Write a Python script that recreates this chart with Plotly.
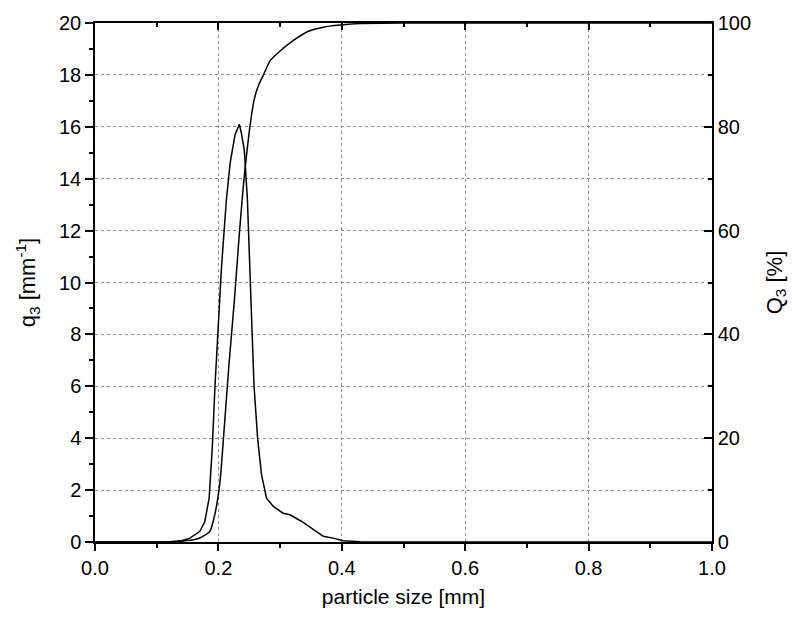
import plotly.graph_objects as go

# density distribution q3 [mm^-1]
q3_x = [0.0, 0.10, 0.12, 0.14, 0.154, 0.170, 0.178, 0.185, 0.190, 0.1945, 0.199, 0.205,
        0.213, 0.219, 0.227, 0.234, 0.2377, 0.242, 0.247, 0.251, 0.2545, 0.2577, 0.2636,
        0.270, 0.278, 0.289, 0.305, 0.316, 0.335, 0.354, 0.370, 0.386, 0.402, 0.43, 0.46,
        0.5, 1.0]
q3_y = [0, 0, 0.01, 0.05, 0.15, 0.41, 0.79, 1.69, 3.6, 6.03, 8.07, 10.6,
        13.2, 14.6, 15.7, 16.1, 15.7, 15.1, 13.2, 10.6, 8.07, 6.03, 3.98,
        2.58, 1.69, 1.37, 1.11, 1.05, 0.79, 0.47, 0.22, 0.15, 0.05, 0.01, 0,
        0, 0]

# cumulative distribution Q3 [%]
Q3_x = [0.0, 0.10, 0.13, 0.143, 0.160, 0.170, 0.186, 0.194, 0.2026, 0.209, 0.217, 0.226,
        0.234, 0.2415, 0.2496, 0.2577, 0.265, 0.273, 0.2836, 0.300, 0.321, 0.348, 0.370,
        0.397, 0.43, 0.5, 1.0]
Q3_y = [0, 0, 0.05, 0.2, 0.45, 0.77, 2.0, 5.2, 11.6, 21.2, 34, 46.7,
        59.5, 70, 78.7, 85.1, 88, 90, 92.7, 94.6, 96.6, 98.5, 99.2,
        99.6, 99.9, 100, 100]

FONT = "Liberation Sans, Arial, sans-serif"

fig = go.Figure()
fig.add_trace(go.Scatter(x=q3_x, y=q3_y, mode="lines", line=dict(color="black", width=1.5),
                         xaxis="x", yaxis="y", showlegend=False))
fig.add_trace(go.Scatter(x=Q3_x, y=Q3_y, mode="lines",
                         line=dict(color="black", width=1.5, shape="spline", smoothing=0.5),
                         xaxis="x", yaxis="y2", showlegend=False))
fig.add_trace(go.Scatter(x=[], y=[], xaxis="x2", yaxis="y", showlegend=False))

fig.update_layout(
    width=795, height=617,
    margin=dict(l=95, r=83, t=22, b=66),
    paper_bgcolor="white", plot_bgcolor="white",
    font=dict(family=FONT, size=20, color="black"),
    xaxis=dict(
        range=[0, 1], dtick=0.2, tick0=0, tickformat=".1f",
        ticks="outside", ticklen=7, tickwidth=1.5, tickcolor="black",
        minor=dict(dtick=0.1, ticks="outside", ticklen=4, tickwidth=1.5, tickcolor="black", showgrid=False),
        showline=True, linecolor="black", linewidth=1.5,
        showgrid=True, gridcolor="#8c8c8c", gridwidth=1, griddash="dot",
        zeroline=False,
        title=dict(text="particle size [mm]", font=dict(size=21), standoff=12),
    ),
    xaxis2=dict(
        range=[0, 1], overlaying="x", side="top", anchor="y", dtick=0.2, tick0=0,
        ticks="inside", ticklen=7, tickwidth=1.5, tickcolor="black",
        minor=dict(dtick=0.1, ticks="inside", ticklen=4, tickwidth=1.5, tickcolor="black"),
        showticklabels=False, showline=True, linecolor="black", linewidth=1.5,
        showgrid=False, zeroline=False,
    ),
    yaxis=dict(
        range=[0, 20], dtick=2, tick0=0,
        ticks="outside", ticklen=8, tickwidth=1.5, tickcolor="black",
        minor=dict(dtick=1, ticks="outside", ticklen=4, tickwidth=1.5, tickcolor="black", showgrid=False),
        showline=True, linecolor="black", linewidth=1.5,
        showgrid=True, gridcolor="#8c8c8c", gridwidth=1, griddash="dot",
        zeroline=False,
        title=dict(text="q<sub>3</sub> [mm<sup>-1</sup>]", font=dict(size=22), standoff=17),
    ),
    yaxis2=dict(
        range=[0, 100], dtick=20, tick0=0, overlaying="y", side="right", anchor="x",
        ticks="inside", ticklen=8, tickwidth=1.5, tickcolor="black",
        minor=dict(dtick=10, ticks="inside", ticklen=4, tickwidth=1.5, tickcolor="black"),
        showline=True, linecolor="black", linewidth=1.5,
        showgrid=False, zeroline=False,
        title=dict(text="Q<sub>3</sub> [%]", font=dict(size=22), standoff=16),
    ),
)

fig.write_html("out.html")
